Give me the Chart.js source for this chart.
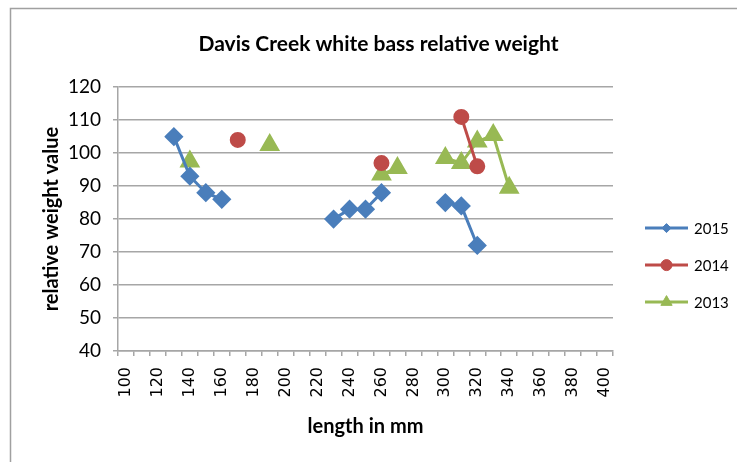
<!DOCTYPE html>
<html>
<head>
<meta charset="utf-8">
<title>Davis Creek white bass relative weight</title>
<script src="https://cdn.jsdelivr.net/npm/chart.js@4/dist/chart.umd.min.js"></script>
<style>
	html, body { margin: 0; padding: 0; background: #fff; overflow: hidden; }
	canvas { display: block; }
</style>
</head>
<body>
<canvas id="myChart" width="757" height="476"></canvas>
<script>
	'use strict';

	// length classes (mm) on the category axis
	var lengths = [100, 110, 120, 130, 140, 150, 160, 170, 180, 190, 200, 210, 220, 230, 240, 250,
		260, 270, 280, 290, 300, 310, 320, 330, 340, 350, 360, 370, 380, 390, 400];

	// relative weight per length class, null where no fish were measured
	var wr2015 = [null, null, null, 105, 93, 88, 86, null, null, null, null, null, null, 80, 83, 83,
		88, null, null, null, 85, 84, 72, null, null, null, null, null, null, null, null];
	var wr2014 = [null, null, null, null, null, null, null, 104, null, null, null, null, null, null, null, null,
		97, null, null, null, null, 111, 96, null, null, null, null, null, null, null, null];
	var wr2013 = [null, null, null, null, 97.5, null, null, null, null, 102.5, null, null, null, null, null, null,
		93.5, 95.5, null, null, 98.5, 97, 103.5, 105.5, 89.5, null, null, null, null, null, null];

	var yTicks = { min: 40, max: 120, step: 10 };

	var gridGrey = '#a6a6a6';
	var legendSizes = [4.5, 5.5, 6.5];

	// grey outer frame of the original spreadsheet chart
	var chartFrame = {
		id: 'chartFrame',
		beforeDraw: function(chart) {
			var ctx = chart.ctx;
			ctx.save();
			ctx.strokeStyle = '#a0a0a0';
			ctx.lineWidth = 1.5;
			ctx.strokeRect(10.5, 8.5, chart.width - 21, chart.height - 17);
			ctx.restore();
		}
	};

	// legend drawn as line + marker, like the spreadsheet one
	var lineLegend = {
		id: 'lineLegend',
		afterDraw: function(chart) {
			var ctx = chart.ctx;
			var area = chart.chartArea;
			var x = area.right + 32;
			var y = (area.top + area.bottom) / 2 + 9;
			chart.data.datasets.forEach(function(ds, i) {
				var cy = y + i * 37;
				ctx.save();
				ctx.strokeStyle = ds.borderColor;
				ctx.lineWidth = 3;
				ctx.beginPath();
				ctx.moveTo(x, cy);
				ctx.lineTo(x + 43, cy);
				ctx.stroke();
				ctx.fillStyle = ds.pointBackgroundColor;
				ctx.lineWidth = 1;
				Chart.helpers.drawPoint(ctx, {
					pointStyle: ds.pointStyle,
					radius: legendSizes[i],
					borderWidth: 1,
					rotation: 0
				}, x + 21.5, cy);
				ctx.fillStyle = '#000';
				ctx.font = '15px Lato';
				ctx.textBaseline = 'middle';
				ctx.textAlign = 'left';
				ctx.fillText(ds.label, x + 49, cy + 1);
				ctx.restore();
			});
		}
	};

	var ctx = document.getElementById('myChart');

	var myChart = new Chart(ctx, {
		type: 'line',
		data: {
			labels: lengths,
			datasets: [{
				label: '2015',
				data: wr2015,
				borderColor: '#4a7ebb',
				backgroundColor: '#4a7ebb',
				pointBackgroundColor: '#4a7ebb',
				pointBorderColor: '#4a7ebb',
				pointStyle: 'rectRot',
				pointRadius: 7.5,
				borderWidth: 3,
				spanGaps: false
			}, {
				label: '2014',
				data: wr2014,
				borderColor: '#be4b48',
				backgroundColor: '#be4b48',
				pointBackgroundColor: '#be4b48',
				pointBorderColor: '#be4b48',
				pointStyle: 'circle',
				pointRadius: 6.5,
				borderWidth: 3,
				spanGaps: false
			}, {
				label: '2013',
				data: wr2013,
				borderColor: '#98b954',
				backgroundColor: '#98b954',
				pointBackgroundColor: '#98b954',
				pointBorderColor: '#98b954',
				pointStyle: 'triangle',
				pointRadius: 9,
				borderWidth: 3,
				spanGaps: false
			}]
		},
		options: {
			responsive: false,
			animation: false,
			layout: {
				padding: { top: 8, right: 0, bottom: 0, left: 0 }
			},
			plugins: {
				legend: { display: false },
				tooltip: { enabled: false },
				title: {
					display: true,
					text: 'Davis Creek white bass relative weight',
					color: '#000',
					font: { family: 'Lato', size: 21, weight: 'bold' },
					padding: { top: 23.5, bottom: 30.5 }
				}
			},
			scales: {
				x: {
					type: 'category',
					offset: true,
					afterFit: function(scale) { scale.height = 125; },
					grid: {
						display: true,
						drawOnChartArea: false,
						offset: true,
						tickLength: 5,
						color: gridGrey,
						lineWidth: 1.5
					},
					border: { color: gridGrey, width: 1.5 },
					ticks: {
						autoSkip: false,
						minRotation: 90,
						maxRotation: 90,
						padding: 11,
						color: '#000',
						font: { family: 'DejaVu Sans', size: 16 },
						callback: function(value, index) {
							var len = this.getLabelForValue(value);
							return len % 20 === 0 ? String(len) : '';
						}
					},
					title: {
						display: true,
						text: 'length in mm',
						color: '#000',
						font: { family: 'Lato', size: 20, weight: 'bold' },
						padding: { top: 0, bottom: 37 }
					}
				},
				y: {
					min: yTicks.min,
					max: yTicks.max,
					afterFit: function(scale) { scale.width = 118; },
					grid: {
						color: gridGrey,
						lineWidth: 1.5,
						tickLength: 5
					},
					border: { color: gridGrey, width: 1.5 },
					ticks: {
						stepSize: yTicks.step,
						padding: 12,
						color: '#000',
						font: { family: 'Lato', size: 19 }
					},
					title: {
						display: true,
						text: 'relative weight value',
						color: '#000',
						font: { family: 'Lato', size: 20, weight: 'bold' },
						padding: { top: 40, bottom: 0 }
					}
				},
				// empty right-hand box that keeps room for the legend
				legendSpace: {
					type: 'linear',
					position: 'right',
					afterFit: function(scale) { scale.width = 144; },
					grid: { display: false },
					border: { display: false },
					ticks: { display: false }
				}
			}
		},
		plugins: [chartFrame, lineLegend]
	});
</script>
</body>
</html>
